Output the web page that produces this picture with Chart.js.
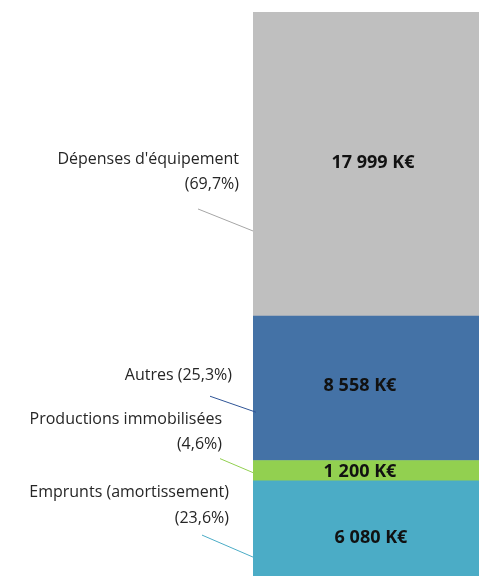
<!DOCTYPE html>
<html>
<head>
<meta charset="utf-8">
<script src="https://cdn.jsdelivr.net/npm/chart.js@4/dist/chart.umd.min.js"></script>
<style>
  body { margin: 0; background: #fff; }
  #wrap { width: 479px; height: 576px; }
</style>
</head>
<body>
<div id="wrap"><canvas id="myChart" width="479" height="576"></canvas></div>
<script>
// data, bottom to top of the stack
const categories = ['Emprunts (amortissement)', 'Productions immobilisées', 'Autres', "Dépenses d'équipement"];
const values = [6080, 1200, 8558, 17999];
const shares = ['23,6%', '4,6%', '25,3%', '69,7%'];
const colors = ['#4BACC6', '#92D050', '#4472A6', '#BFBFBF'];
const lineColors = ['#4BACC6', '#92D050', '#2F5597', '#A6A6A6'];

const total = values.reduce((a, b) => a + b, 0);

// label text lines for each segment
const labelLines = [
    ['Emprunts (amortissement)', '(23,6%)'],
    ['Productions immobilisées', '(4,6%)'],
    ['Autres (25,3%)'],
    ["Dépenses d'équipement", '(69,7%)']
];

// leader placement, relative to bar left edge / segment middle
const leaders = [
    { right: -24, ys: [-40, -14], from: [-51, 3], to: [0, 25], dx: 5, dy: 6 },
    { right: -31, ys: [-51, -26], from: [-33, -12], to: [0, 2], dx: -6, dy: 1 },
    { right: -21, ys: [-13], from: [-43, 8], to: [3, 24], dx: -6, dy: -2 },
    { right: -14, ys: [-5, 20], from: [-55, 45], to: [0, 67], dx: 7, dy: -1 }
];

function fmt(v) {
    return String(v).replace(/\B(?=(\d{3})+(?!\d))/g, ' ') + ' K€';
}

const labelPlugin = {
    id: 'segLabels',
    afterDatasetsDraw(chart) {
        const ctx = chart.ctx;
        ctx.save();
        chart.data.datasets.forEach((ds, i) => {
            const el = chart.getDatasetMeta(i).data[0];
            const mid = (el.y + el.base) / 2;
            const left = el.x - el.width / 2;
            const L = leaders[i];

            // value inside the bar
            ctx.fillStyle = '#111';
            ctx.font = 'bold 18px "Open Sans"';
            ctx.textAlign = 'center';
            ctx.textBaseline = 'middle';
            ctx.fillText(fmt(values[i]), el.x + L.dx, mid + L.dy);

            // category label on the left
            ctx.fillStyle = '#262626';
            ctx.font = '16px "Open Sans"';
            ctx.textAlign = 'right';
            labelLines[i].forEach((t, k) => {
                ctx.fillText(t, left + L.right, mid + L.ys[k]);
            });

            ctx.strokeStyle = lineColors[i];
            ctx.lineWidth = 1;
            ctx.beginPath();
            ctx.moveTo(left + L.from[0], mid + L.from[1]);
            ctx.lineTo(left + L.to[0], mid + L.to[1]);
            ctx.stroke();
        });
        ctx.restore();
    }
};

let ctx = document.getElementById('myChart').getContext('2d');

let chart = new Chart(ctx, {
    type: 'bar',
    data: {
        labels: [''],
        datasets: categories.map((c, i) => ({
            label: c,
            data: [values[i]],
            backgroundColor: colors[i],
            borderWidth: 0,
            barPercentage: 1,
            categoryPercentage: 1
        }))
    },
    options: {
        responsive: false,
        animation: false,
        layout: { padding: { left: 253, top: 12, right: 0, bottom: 0 } },
        plugins: { legend: { display: false }, tooltip: { enabled: false } },
        scales: {
            x: { stacked: true, display: false },
            y: { stacked: true, display: false, min: 440, max: total }
        }
    },
    plugins: [labelPlugin]
});
</script>
</body>
</html>
